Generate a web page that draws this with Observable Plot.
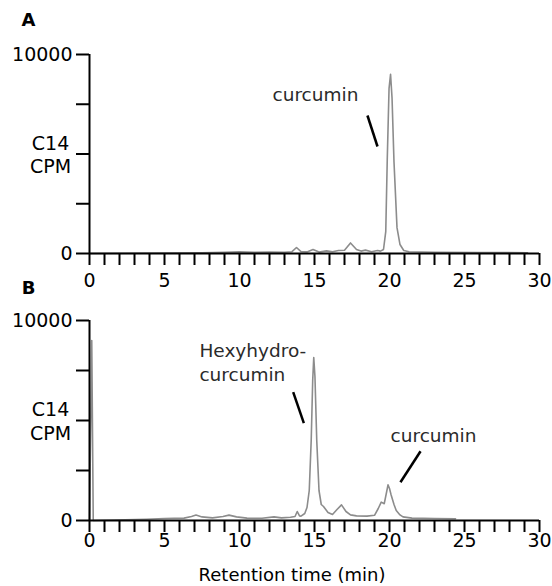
<!DOCTYPE html>
<html><head><meta charset="utf-8">
<script src="https://cdn.jsdelivr.net/npm/d3@7"></script>
<script src="https://cdn.jsdelivr.net/npm/@observablehq/plot@0.6"></script>
<style>
body{margin:0;background:#fff;}
#chart{width:552px;height:586px;}
#chart svg{overflow:visible;display:block;}
</style></head><body><div id="chart"></div>
<script>
// ---- Data ----
const timeA = [0, 7.5, 9, 10, 11, 12, 13, 13.5, 13.8, 14.1, 14.5, 14.9, 15.3, 15.8, 16.2, 16.6, 17.0, 17.4, 17.8, 18.1, 18.4, 18.8, 19.2, 19.4, 19.6, 19.75, 19.85, 19.97, 20.07, 20.17, 20.3, 20.5, 20.7, 20.95, 21.3, 23, 26, 29.2];
const cpmA  = [0, 30, 60, 80, 60, 70, 60, 90, 300, 90, 80, 200, 70, 130, 90, 150, 160, 530, 200, 120, 170, 90, 150, 120, 200, 1100, 4700, 8300, 9000, 7800, 4600, 1300, 450, 150, 90, 60, 50, 40];

const timeB = [0, 0.15, 0.25, 3.8, 5, 6.3, 6.8, 7.1, 7.5, 8.2, 8.9, 9.3, 9.8, 10.5, 11.5, 12.3, 12.8, 13.4, 13.7, 13.85, 14.0, 14.1, 14.35, 14.5, 14.65, 14.78, 14.88, 14.95, 15.03, 15.15, 15.3, 15.45, 15.6, 15.9, 16.2, 16.5, 16.8, 17.1, 17.4, 17.8, 18.5, 19.0, 19.25, 19.45, 19.65, 19.8, 19.9, 20.0, 20.1, 20.3, 20.45, 20.7, 20.9, 21.5, 23, 24.4];
const cpmB  = [0, 9000, 0, 60, 100, 120, 200, 270, 180, 130, 200, 270, 180, 120, 110, 180, 130, 160, 200, 450, 230, 220, 350, 650, 1500, 4000, 7000, 8150, 7200, 4000, 1500, 800, 700, 400, 300, 550, 780, 450, 280, 230, 220, 260, 600, 920, 840, 1400, 1780, 1600, 1300, 800, 500, 280, 180, 120, 100, 90];

const xMinorTicks = [0,1,2,3,4,5,6,7,8,9,10,11,12,13,14,15,16,17,18,19,20,21,22,23,24,25,26,27,28,29,30];
const xTickLabels = [0, 5, 10, 15, 20, 25, 30];
const yTicks = [0, 2500, 5000, 7500, 10000];
const yTickLabels = [0, 10000];

// annotations (data coordinates)
const annTextA = ["curcumin"], annXA = [12.2], annYA = [8090];
const leadA = {x1: [18.53], y1: [6935], x2: [19.2], y2: [5377]};
const annTextB = ["Hexyhydro-\ncurcumin", "curcumin"], annXB = [7.33, 20.07], annYB = [7975, 4350];
const leadB = {x1: [13.58, 22.07], y1: [6415, 3465], x2: [14.29, 20.73], y2: [4865, 1915]};

const panelLetters = ["A", "B"];
const yLabel = "C14\nCPM";
const xTitle = "Retention time (min)";

function panel({time, cpm, letter, annText, annX, annY, lead, height, marginTop, marginBottom, labelPad, title}) {
  const data = time.map((t, i) => ({t, c: cpm[i]}));
  const ann = annText.map((s, i) => ({s, x: annX[i], y: annY[i]}));
  const leads = lead.x1.map((d, i) => ({x1: lead.x1[i], y1: lead.y1[i], x2: lead.x2[i], y2: lead.y2[i]}));
  const marks = [
    Plot.line(data, {x: "t", y: "c", stroke: "#8c8c8c", strokeWidth: 1.6}),
    Plot.ruleY([0], {stroke: "black", strokeWidth: 2}),
    Plot.ruleX([0], {stroke: "black", strokeWidth: 2}),
    Plot.axisX({ticks: xMinorTicks, tickSize: 12, tickFormat: () => "", stroke: "black", strokeWidth: 2, label: null}),
    Plot.axisX({ticks: xTickLabels, tickSize: 0, tickPadding: 12 + labelPad, fontSize: 19, label: null}),
    Plot.axisY({ticks: yTicks, tickSize: 13, tickPadding: 4, strokeWidth: 2, fontSize: 19, label: null,
      tickFormat: d => yTickLabels.includes(d) ? String(d) : ""}),
    Plot.text([yLabel], {y: 5000, frameAnchor: "left", dx: -39, textAnchor: "middle", lineAnchor: "middle", fontSize: 19, lineHeight: 1.25}),
    Plot.text([letter], {frameAnchor: "top-left", dx: -61, dy: -(marginTop - (letter === "A" ? 20 : 2)), textAnchor: "middle", lineAnchor: "middle", fontSize: 18, fontWeight: "bold"}),
    Plot.text(ann, {x: "x", y: "y", text: "s", textAnchor: "start", lineAnchor: "middle", fontSize: 18.5, lineHeight: 1.35, fill: "#2a2a2a"}),
    Plot.link(leads, {x1: "x1", y1: "y1", x2: "x2", y2: "y2", stroke: "black", strokeWidth: 2.5})
  ];
  if (title) marks.push(Plot.text([title], {x: 13.5, frameAnchor: "bottom", dy: 55, textAnchor: "middle", lineAnchor: "middle", fontSize: 18}));
  return Plot.plot({
    width: 552, height, marginLeft: 89, marginRight: 13, marginTop, marginBottom,
    style: {fontFamily: "DejaVu Sans", background: "white", overflow: "visible"},
    x: {domain: [0, 30]},
    y: {domain: [0, 10000]},
    marks
  });
}

const chart = document.getElementById("chart");
chart.append(panel({time: timeA, cpm: cpmA, letter: panelLetters[0], annText: annTextA, annX: annXA, annY: annYA, lead: leadA,
  height: 286, marginTop: 54, marginBottom: 33, labelPad: 8}));
chart.append(panel({time: timeB, cpm: cpmB, letter: panelLetters[1], annText: annTextB, annX: annXB, annY: annYB, lead: leadB,
  height: 300, marginTop: 34, marginBottom: 66, labelPad: 1, title: xTitle}));
</script></body></html>
